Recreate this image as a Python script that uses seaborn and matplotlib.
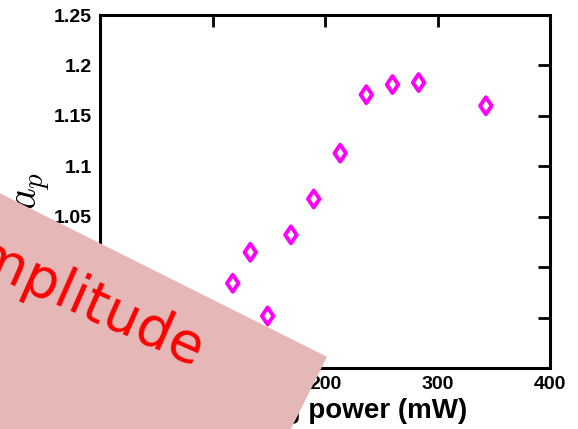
import numpy as np
import pandas as pd
import matplotlib
matplotlib.use("Agg")
import matplotlib.pyplot as plt
import seaborn as sns
from matplotlib.patches import Polygon
from matplotlib.path import Path
from matplotlib.markers import MarkerStyle

# ---- data ----
power = [118, 133.6, 149, 169.7, 190, 213.5, 236.7, 260, 283.2, 343]
ratio = [0.984, 1.0147, 0.9516, 1.032, 1.0676, 1.113, 1.171, 1.181, 1.183, 1.16]

xticks = [0, 100, 200, 300, 400]
xtick_labels = ["0", "100", "200", "300", "400"]
yticks = [0.9, 0.95, 1.0, 1.05, 1.1, 1.15, 1.2, 1.25]
ytick_labels = ["0.9", "0.95", "1", "1.05", "1.1", "1.15", "1.2", "1.25"]
xlabel = "Pumping power (mW)"
ylabel = r"$a_p$"
overlay_text = "Amplitude"

W, H = 578, 429

sns.set_style("white")
plt.rcParams["font.family"] = ["Liberation Sans", "DejaVu Sans"]
plt.rcParams["mathtext.fontset"] = "cm"
plt.rcParams["text.color"] = "black"
plt.rcParams["axes.labelcolor"] = "black"

fig = plt.figure(figsize=(W / 100, H / 100), dpi=100)
fig.patch.set_facecolor("white")
ax = fig.add_axes([100 / W, 1 - 368 / H, 450 / W, 353 / H])

df = pd.DataFrame({"power": power, "ratio": ratio})
diamond = MarkerStyle(Path([(0, 1), (0.68, 0), (0, -1), (-0.68, 0), (0, 1)],
                           [Path.MOVETO, Path.LINETO, Path.LINETO, Path.LINETO, Path.CLOSEPOLY]))
sns.scatterplot(data=df, x="power", y="ratio", ax=ax, marker=diamond, s=150,
                facecolor="none", edgecolor="#FF00FF", linewidth=2.8,
                legend=False, zorder=3, clip_on=False)

ax.set_xlim(0, 400)
ax.set_ylim(0.9, 1.25)
ax.set_xticks(xticks)
ax.set_xticklabels(xtick_labels)
ax.set_yticks(yticks)
ax.set_yticklabels(ytick_labels)
ax.tick_params(direction="in", length=8.5, width=2, top=True, right=True,
               labelsize=14, pad=6, colors="black")
for lab in ax.get_xticklabels() + ax.get_yticklabels():
    lab.set_fontweight("bold")
for s in ax.spines.values():
    s.set_linewidth(2.2)
    s.set_color("black")
    s.set_visible(True)

ax.set_xlabel(xlabel, fontsize=20, fontweight="bold", labelpad=3, color="black")
ax.set_ylabel("")
fig.text(32 / W, 1 - 191 / H, ylabel, rotation=90, ha="center", va="center",
         fontsize=30, color="black")

# ---- overlay band ----
def f(px, py):
    return (px / W, 1 - py / H)

d = np.array([0.894, 0.447])
n = np.array([-0.447, 0.894])
P2 = np.array([327.0, 356.8])
P1 = P2 - 527 / 0.894 * d
P3 = P2 + 400 * n
P4 = P1 + 400 * n
poly = Polygon([f(*P1), f(*P2), f(*P3), f(*P4)], closed=True,
               transform=fig.transFigure, facecolor="#E6B7B7", edgecolor="none",
               zorder=10)
fig.add_artist(poly)
fig.text(195 / W, 1 - 367 / H, overlay_text, rotation=-24, rotation_mode="anchor",
         ha="right", va="baseline", fontsize=40, color="red",
         family="DejaVu Sans", zorder=11)

fig.savefig("out.png", dpi=100)
